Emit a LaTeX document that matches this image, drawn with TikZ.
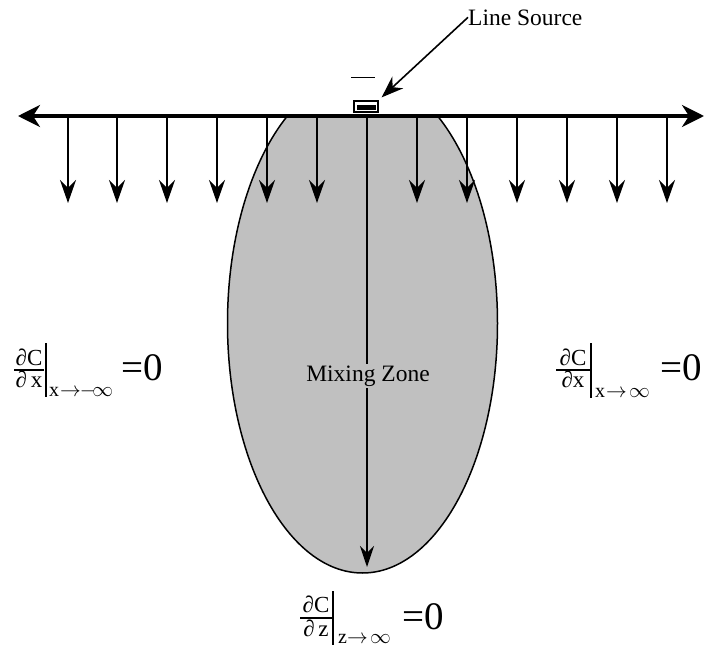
\documentclass[tikz,border=0pt]{standalone}
\usepackage{fontspec}
\setmainfont{Liberation Serif}
\usetikzlibrary{arrows.meta}
\definecolor{zonegray}{RGB}{192,192,192}
\tikzset{
  darrow/.style={line width=2pt,-{Stealth[length=23pt,width=16pt,inset=8pt]}},
  harrow/.style={line width=3.5pt,{Stealth[length=22pt,width=22pt,inset=7pt]}-{Stealth[length=22pt,width=22pt,inset=7pt]}},
  marrow/.style={line width=2pt,-{Stealth[length=21pt,width=14pt,inset=7pt]}},
  larrow/.style={line width=1.6pt,-{Stealth[length=22pt,width=16pt,inset=7pt]}},
  fr/.style={inner sep=0pt,font=\fontsize{23}{27}\selectfont},
  sub/.style={inner sep=0pt,anchor=base west,font=\fontsize{20}{24}\selectfont},
  eq/.style={inner sep=0pt,anchor=base west,font=\fontsize{39}{46}\selectfont},
  lbl/.style={inner sep=0pt,font=\fontsize{23.5}{28}\selectfont},
  fbar/.style={line width=1.2pt},
}
\begin{document}
\begin{tikzpicture}[x=1pt,y=-1pt]
\useasboundingbox (0,0) rectangle (705,648);
% mixing zone
\begin{scope}
\clip (0,116) rectangle (705,648);
\draw[line width=1.5pt,fill=zonegray] (362.5,323.4) ellipse [x radius=135, y radius=249.6];
\end{scope}
% main vertical arrow
\coordinate (mtop) at (367,116);
\coordinate (mbot) at (367,567);
\draw[marrow] (mtop) -- (mbot);
\node[lbl,fill=zonegray,inner sep=2pt] (mz) at (368,376) {Mixing Zone};
% downward arrows
\foreach \x [count=\i] in {68,117,167,217,267,317,417,467,517,567,617,667}{
  \coordinate (s\i) at (\x,116);
  \coordinate (e\i) at (\x,203);
  \draw[darrow] (s\i) -- (e\i);
}
% horizontal line
\coordinate (hl) at (18,116);
\coordinate (hr) at (704,116);
\draw[harrow] (hl) -- (hr);
% source
\node[draw,line width=1.2pt,fill=white,minimum width=24pt,minimum height=11pt,inner sep=0pt] (src) at (366,106.5) {};
\fill (357,105) rectangle (376,110);
\draw[line width=1pt] (351,77) -- (375,77);
\node[lbl,anchor=base west] (ls) at (468,25) {Line Source};
\draw[larrow] (ls.west) -- ([shift={(3,-3)}]src.north east);
% left formula
\node[fr,anchor=base] (lnum) at (29,365) {∂C};
\node[fr,anchor=base] (lden) at (29,387) {∂\,x};
\draw[fbar] (14,370) -- (44,370);
\draw[fbar] (46,343) -- (46,397);
\node[sub] (lsub) at (49,396) {x\hspace{1pt}$\to\!\!-\!\infty$};
\node[eq] (leq) at (121,380) {=0};
% right formula
\node[fr,anchor=base] (rnum) at (573,365) {∂C};
\node[fr,anchor=base] (rden) at (573,387) {∂x};
\draw[fbar] (556,370) -- (590,370);
\draw[fbar] (591,343) -- (591,398);
\node[sub] (rsub) at (595,397) {x\hspace{1pt}$\to\!\infty$};
\node[eq] (req) at (660,380) {=0};
% bottom formula
\node[fr,anchor=base] (bnum) at (316,612) {∂C};
\node[fr,anchor=base] (bden) at (316,636) {∂\,z};
\draw[fbar] (300,618) -- (332,618);
\draw[fbar] (333,591) -- (333,645);
\node[sub] (bsub) at (338,643) {z$\to\!\infty$};
\node[eq] (beq) at (402,629) {=0};
\end{tikzpicture}
\end{document}
